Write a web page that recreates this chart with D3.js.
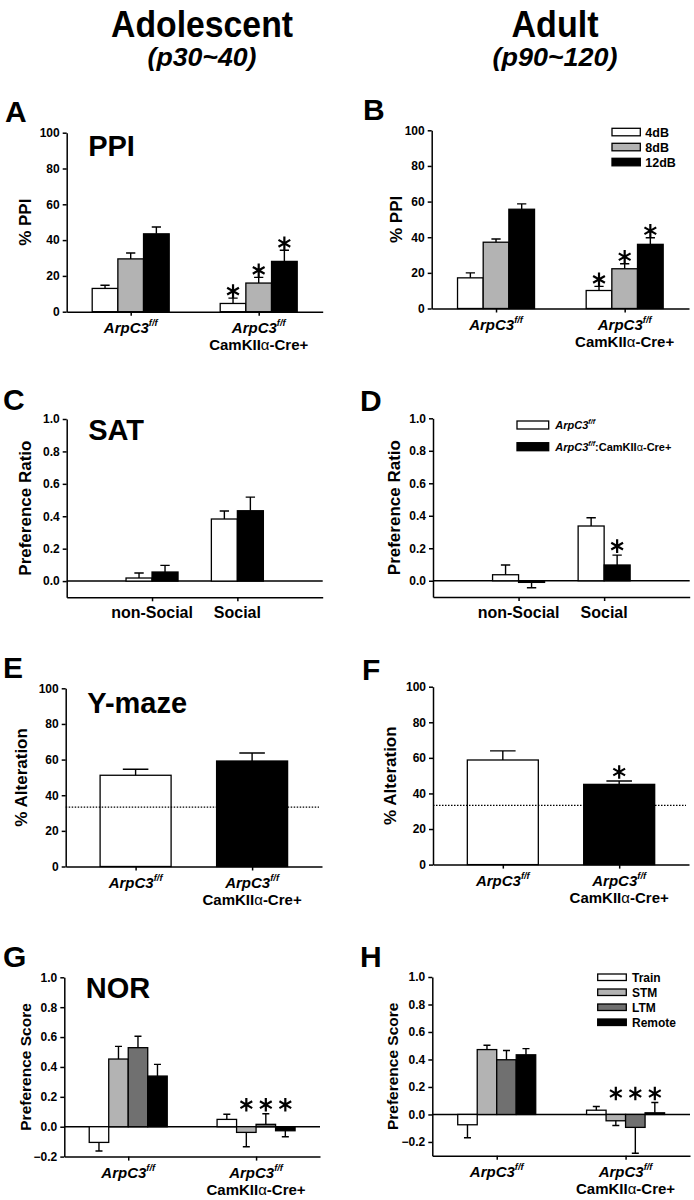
<!DOCTYPE html>
<html><head><meta charset="utf-8">
<script src="https://cdn.jsdelivr.net/npm/d3@7"></script>
<style>
body{margin:0;background:#fff}
svg{display:block}
text{font-family:"Liberation Sans",Arial,Helvetica,sans-serif;font-weight:bold;fill:#000}
</style>
</head><body>
<svg id="fig" width="694" height="1200"></svg>
<script>
// ---------------- DATA ----------------
const genotypes = ["ArpC3f/f", "ArpC3f/f:CamKIIα-Cre+"];
const ppiLevels = ["4dB", "8dB", "12dB"];
const satCats = ["non-Social", "Social"];
const satGroups = ["ArpC3f/f", "ArpC3f/f:CamKIIα-Cre+"];
const norPhases = ["Train", "STM", "LTM", "Remote"];
const pctTicks = [0, 20, 40, 60, 80, 100];
const ratioTicks = [0, 0.2, 0.4, 0.6, 0.8, 1.0];
const scoreTicks = [-0.2, 0, 0.2, 0.4, 0.6, 0.8, 1.0];

// A: PPI adolescent (per genotype)
const ppiAdo4 = [13.0, 4.6],   ppiAdo4Err = [1.8, 3.0];
const ppiAdo8 = [29.5, 16.0],  ppiAdo8Err = [3.3, 3.2];
const ppiAdo12 = [43.5, 28.1], ppiAdo12Err = [3.8, 6.2];
const ppiAdoSig = [[1, 0], [1, 1], [1, 2]];
// B: PPI adult
const ppiAdu4 = [17.2, 10.1],  ppiAdu4Err = [2.8, 2.3];
const ppiAdu8 = [37.2, 22.3],  ppiAdu8Err = [1.8, 2.8];
const ppiAdu12 = [55.7, 36.0], ppiAdu12Err = [3.0, 3.7];
const ppiAduSig = [[1, 0], [1, 1], [1, 2]];
// C: SAT adolescent (per category)
const satAdoCtrl = [0.019, 0.383], satAdoCtrlErr = [0.031, 0.049];
const satAdoCre = [0.056, 0.434],  satAdoCreErr = [0.041, 0.084];
// D: SAT adult
const satAduCtrl = [0.037, 0.337], satAduCtrlErr = [0.060, 0.051];
const satAduCre = [-0.010, 0.097], satAduCreErr = [0.033, 0.061];
const satAduSig = [[1, 1]];
// E/F: Y-maze
const ymazeAdo = [51.2, 59.2], ymazeAdoErr = [3.4, 4.5];
const ymazeAdu = [58.8, 45.1], ymazeAduErr = [5.1, 1.9];
const ymazeAduSig = [[1, 0]];
const ymazeChance = 33.3;
// G: NOR adolescent
const norAdoTrain = [-0.105, 0.049], norAdoTrainErr = [0.058, 0.034];
const norAdoSTM = [0.453, -0.038],   norAdoSTMErr = [0.085, 0.096];
const norAdoLTM = [0.529, 0.016],    norAdoLTMErr = [0.076, 0.071];
const norAdoRemote = [0.339, -0.027], norAdoRemoteErr = [0.078, 0.040];
const norAdoSig = [[1, 1], [1, 2], [1, 3]];
// H: NOR adult
const norAduTrain = [-0.075, 0.031], norAduTrainErr = [0.094, 0.027];
const norAduSTM = [0.472, -0.046],   norAduSTMErr = [0.032, 0.034];
const norAduLTM = [0.398, -0.094],   norAduLTMErr = [0.067, 0.188];
const norAduRemote = [0.434, 0.012], norAduRemoteErr = [0.045, 0.075];
const norAduSig = [[1, 1], [1, 2], [1, 3]];

// ---------------- STYLE ----------------
const C_WHITE = "#ffffff", C_LGRAY = "#b3b3b3", C_DGRAY = "#707070", C_BLACK = "#000000";
const svg = d3.select("#fig");

function catLabel(g, cx, by, cat, size) {
  const parts = cat.split(":");
  if (parts[0].startsWith("ArpC3")) {
    const t = g.append("text").attr("x", cx).attr("y", by).attr("text-anchor", "middle")
      .style("font-size", size + "px");
    t.append("tspan").style("font-style", "italic").text("ArpC3");
    t.append("tspan").style("font-style", "italic").style("font-size", (size * 0.62) + "px")
      .attr("dy", -size * 0.45).text("f/f");
    if (parts[1]) {
      const t2 = g.append("text").attr("x", cx).attr("y", by + 17.5).attr("text-anchor", "middle")
        .style("font-size", size + "px");
      const s = parts[1];
      const i = s.indexOf("α");
      t2.append("tspan").text(s.slice(0, i));
      t2.append("tspan").style("font-weight", "normal").text("α");
      t2.append("tspan").text(s.slice(i + 1));
    }
  } else {
    g.append("text").attr("x", cx).attr("y", by).attr("text-anchor", "middle")
      .style("font-size", (size + 1) + "px").text(cat);
  }
}

function panel(o) {
  const g = svg.append("g");
  const y = d3.scaleLinear().domain(o.domain).range([o.bottom, o.top]);
  const x = d3.scalePoint().domain(o.cats).range([o.left, o.right]).padding(o.pad);
  const xs = d3.scaleBand().domain(o.series.map(s => s.name)).range([-o.gw / 2, o.gw / 2]);
  const bw = xs.bandwidth();

  if (o.zero) {
    g.append("line").attr("x1", o.left).attr("x2", o.right)
      .attr("y1", y(0)).attr("y2", y(0)).attr("stroke", "#000").attr("stroke-width", 1.5);
  }

  const tops = {};
  o.series.forEach((s, si) => {
    s.values.forEach((v, ci) => {
      const bx = x(o.cats[ci]) + xs(s.name);
      const fill = Array.isArray(s.color) ? s.color[ci] : s.color;
      g.append("rect").attr("x", bx).attr("y", y(Math.max(0, v)))
        .attr("width", bw).attr("height", Math.abs(y(v) - y(0)))
        .attr("fill", fill).attr("stroke", "#000").attr("stroke-width", 1.3);
      const dir = v < 0 ? -1 : 1;
      const e = v + dir * s.errs[ci];
      const cx = bx + bw / 2, cw = bw * 0.36;
      g.append("path")
        .attr("d", `M${cx},${y(v)}V${y(e)}M${cx - cw / 2},${y(e)}H${cx + cw / 2}`)
        .attr("stroke", "#000").attr("stroke-width", 1.4).attr("fill", "none");
      tops[ci + "_" + si] = { cx, top: Math.min(y(v), y(e), y(0)) };
    });
  });

  if (o.dotted != null) {
    g.append("line").attr("x1", o.left).attr("x2", o.right - 3)
      .attr("y1", y(o.dotted)).attr("y2", y(o.dotted))
      .attr("stroke", "#000").attr("stroke-width", 1.2).attr("stroke-dasharray", "1.5,1.5");
  }

  // significance asterisks
  if (o.sig) {
    const star = d3.symbol().type(d3.symbolAsterisk).size(130);
    let alignY = {};
    if (o.alignStars) {
      o.cats.forEach((c, ci) => {
        alignY[ci] = d3.min(o.series, (s, si) => tops[ci + "_" + si].top);
      });
    }
    o.sig.forEach(([ci, si]) => {
      const t = tops[ci + "_" + si];
      const sy = (o.alignStars ? alignY[ci] : t.top) - o.starGap;
      g.append("path").attr("d", star).attr("transform", `translate(${t.cx},${sy})`)
        .attr("fill", "none").attr("stroke", "#000").attr("stroke-width", 2.2);
    });
  }

  // axes
  const ya = g.append("g").attr("transform", `translate(${o.left},0)`)
    .call(d3.axisLeft(y).tickValues(o.ticks).tickFormat(d3.format(o.fmt))
      .tickSize(4).tickPadding(3).tickSizeOuter(0));
  const xa = g.append("g").attr("transform", `translate(0,${o.bottom})`)
    .call(d3.axisBottom(x).tickSize(4).tickFormat("").tickSizeOuter(0));
  [ya, xa].forEach(a => {
    a.selectAll("path,line").attr("stroke", "#000").attr("stroke-width", 1.5);
    a.selectAll("text").style("font-size", "12px").style("font-weight", "bold")
      .style("font-family", '"Liberation Sans",Arial,sans-serif').attr("fill", "#000");
  });
  // category labels
  o.cats.forEach(c => catLabel(g, x(c), o.bottom + 21, c, 15));
  // y label
  g.append("text").attr("transform", `translate(${o.ylx},${(o.top + o.bottom) / 2}) rotate(-90)`)
    .attr("text-anchor", "middle").attr("dy", "0.36em").style("font-size", o.ylSize + "px")
    .text(o.ylabel);
  // title
  if (o.title) {
    g.append("text").attr("x", o.left + 21.5).attr("y", o.ty).style("font-size", "29px").text(o.title);
  }
  // panel letter
  g.append("text").attr("x", o.lx).attr("y", o.ly).style("font-size", "30px").text(o.letter);
  return { g, x, y };
}

function legend(items, colors, lx, ly, w, h, step, tx, size) {
  const g = svg.append("g");
  items.forEach((it, i) => {
    g.append("rect").attr("x", lx).attr("y", ly + i * step).attr("width", w).attr("height", h)
      .attr("fill", colors[i]).attr("stroke", "#000").attr("stroke-width", 1.3);
    const t = g.append("text").attr("x", tx).attr("y", ly + i * step + h / 2).attr("dy", "0.36em")
      .style("font-size", size + "px");
    const parts = it.split(":");
    if (parts[0].startsWith("ArpC3")) {
      t.append("tspan").style("font-style", "italic").text("ArpC3");
      t.append("tspan").style("font-style", "italic").style("font-size", (size * 0.65) + "px")
        .attr("dy", -size * 0.42).text("f/f");
      if (parts[1]) {
        const s = parts[1], k = s.indexOf("α");
        t.append("tspan").attr("dy", size * 0.42).text(":" + s.slice(0, k));
        t.append("tspan").style("font-weight", "normal").text("α");
        t.append("tspan").text(s.slice(k + 1));
      }
    } else {
      t.text(it);
    }
  });
}

// ---------------- HEADER ----------------
svg.append("text").attr("x", 202).attr("y", 37).attr("text-anchor", "middle")
  .style("font-size", "37px").attr("textLength", 182).attr("lengthAdjust", "spacingAndGlyphs").text("Adolescent");
svg.append("text").attr("x", 202).attr("y", 66).attr("text-anchor", "middle").style("font-style", "italic")
  .style("font-size", "25px").attr("textLength", 109).attr("lengthAdjust", "spacingAndGlyphs").text("(p30~40)");
svg.append("text").attr("x", 555).attr("y", 37).attr("text-anchor", "middle")
  .style("font-size", "37px").attr("textLength", 87).attr("lengthAdjust", "spacingAndGlyphs").text("Adult");
svg.append("text").attr("x", 555).attr("y", 66).attr("text-anchor", "middle").style("font-style", "italic")
  .style("font-size", "25px").attr("textLength", 125).attr("lengthAdjust", "spacingAndGlyphs").text("(p90~120)");

// ---------------- PANELS ----------------
panel({
  letter: "A", lx: 5, ly: 121.5, title: "PPI", ty: 156,
  left: 66.7, right: 322.7, top: 132.7, bottom: 311.7, domain: [0, 100],
  ticks: pctTicks, fmt: "d", cats: genotypes, pad: 0.5, gw: 77,
  series: [
    { name: ppiLevels[0], values: ppiAdo4, errs: ppiAdo4Err, color: C_WHITE },
    { name: ppiLevels[1], values: ppiAdo8, errs: ppiAdo8Err, color: C_LGRAY },
    { name: ppiLevels[2], values: ppiAdo12, errs: ppiAdo12Err, color: C_BLACK }
  ],
  sig: ppiAdoSig, starGap: 7, ylabel: "% PPI", ylx: 25, ylSize: 17
});
panel({
  letter: "B", lx: 363, ly: 120,
  left: 431.7, right: 689, top: 130.3, bottom: 308.5, domain: [0, 100],
  ticks: pctTicks, fmt: "d", cats: genotypes, pad: 0.5, gw: 77,
  series: [
    { name: ppiLevels[0], values: ppiAdu4, errs: ppiAdu4Err, color: C_WHITE },
    { name: ppiLevels[1], values: ppiAdu8, errs: ppiAdu8Err, color: C_LGRAY },
    { name: ppiLevels[2], values: ppiAdu12, errs: ppiAdu12Err, color: C_BLACK }
  ],
  sig: ppiAduSig, starGap: 7, ylabel: "% PPI", ylx: 396, ylSize: 17
});
legend(ppiLevels, [C_WHITE, C_LGRAY, C_BLACK], 612, 128.3, 28.3, 7.5, 15, 645.3, 12.5);

panel({
  letter: "C", lx: 3, ly: 410, title: "SAT", ty: 440,
  left: 66.7, right: 322.7, top: 419, bottom: 597.3, domain: [-0.1, 1.0], zero: true,
  ticks: ratioTicks, fmt: ".1f", cats: satCats, pad: 1, gw: 52,
  series: [
    { name: satGroups[0], values: satAdoCtrl, errs: satAdoCtrlErr, color: C_WHITE },
    { name: satGroups[1], values: satAdoCre, errs: satAdoCreErr, color: C_BLACK }
  ],
  ylabel: "Preference Ratio", ylx: 25, ylSize: 17
});
panel({
  letter: "D", lx: 360, ly: 410.5,
  left: 433, right: 689.7, top: 418.3, bottom: 597, domain: [-0.1, 1.0], zero: true,
  ticks: ratioTicks, fmt: ".1f", cats: satCats, pad: 1, gw: 52,
  series: [
    { name: satGroups[0], values: satAduCtrl, errs: satAduCtrlErr, color: C_WHITE },
    { name: satGroups[1], values: satAduCre, errs: satAduCreErr, color: C_BLACK }
  ],
  sig: satAduSig, starGap: 9, ylabel: "Preference Ratio", ylx: 394, ylSize: 17
});
legend(satGroups, [C_WHITE, C_BLACK], 517, 421, 31.7, 8, 21.7, 555.3, 11);

// Y-maze: one bar per genotype (white = ArpC3f/f, black = Cre+)
const ymazeSeries = ["Y-maze"];
panel({
  letter: "E", lx: 3, ly: 678, title: "Y-maze", ty: 712.5,
  left: 65.7, right: 322, top: 688.3, bottom: 866.5, domain: [0, 100], dotted: ymazeChance,
  ticks: pctTicks, fmt: "d", cats: genotypes, pad: 0.6, gw: 71,
  series: [
    { name: ymazeSeries[0], values: ymazeAdo, errs: ymazeAdoErr, color: [C_WHITE, C_BLACK] }
  ],
  ylabel: "% Alteration", ylx: 21, ylSize: 17
});
panel({
  letter: "F", lx: 362, ly: 680,
  left: 433, right: 689, top: 686.7, bottom: 864.6, domain: [0, 100], dotted: ymazeChance,
  ticks: pctTicks, fmt: "d", cats: genotypes, pad: 0.6, gw: 71,
  series: [
    { name: ymazeSeries[0], values: ymazeAdu, errs: ymazeAduErr, color: [C_WHITE, C_BLACK] }
  ],
  sig: ymazeAduSig, starGap: 9,
  ylabel: "% Alteration", ylx: 390, ylSize: 17
});

panel({
  letter: "G", lx: 3, ly: 967, title: "NOR", ty: 998,
  left: 64.3, right: 320, top: 977.3, bottom: 1156.6, domain: [-0.2, 1.0], zero: true,
  ticks: scoreTicks, fmt: ".1f", cats: genotypes, pad: 0.5, gw: 78,
  series: [
    { name: norPhases[0], values: norAdoTrain, errs: norAdoTrainErr, color: C_WHITE },
    { name: norPhases[1], values: norAdoSTM, errs: norAdoSTMErr, color: C_LGRAY },
    { name: norPhases[2], values: norAdoLTM, errs: norAdoLTMErr, color: C_DGRAY },
    { name: norPhases[3], values: norAdoRemote, errs: norAdoRemoteErr, color: C_BLACK }
  ],
  sig: norAdoSig, alignStars: true, starGap: 9, ylabel: "Preference Score", ylx: 25, ylSize: 15.5
});
panel({
  letter: "H", lx: 360, ly: 966.7,
  left: 432.3, right: 690, top: 977, bottom: 1155.7, domain: [-0.3, 1.0], zero: true,
  ticks: scoreTicks, fmt: ".1f", cats: genotypes, pad: 0.5, gw: 78,
  series: [
    { name: norPhases[0], values: norAduTrain, errs: norAduTrainErr, color: C_WHITE },
    { name: norPhases[1], values: norAduSTM, errs: norAduSTMErr, color: C_LGRAY },
    { name: norPhases[2], values: norAduLTM, errs: norAduLTMErr, color: C_DGRAY },
    { name: norPhases[3], values: norAduRemote, errs: norAduRemoteErr, color: C_BLACK }
  ],
  sig: norAduSig, alignStars: true, starGap: 9, ylabel: "Preference Score", ylx: 392, ylSize: 15.5
});
legend(norPhases, [C_WHITE, C_LGRAY, C_DGRAY, C_BLACK], 597.7, 974, 28.6, 6.5, 15, 632, 12);
</script>
</body></html>
